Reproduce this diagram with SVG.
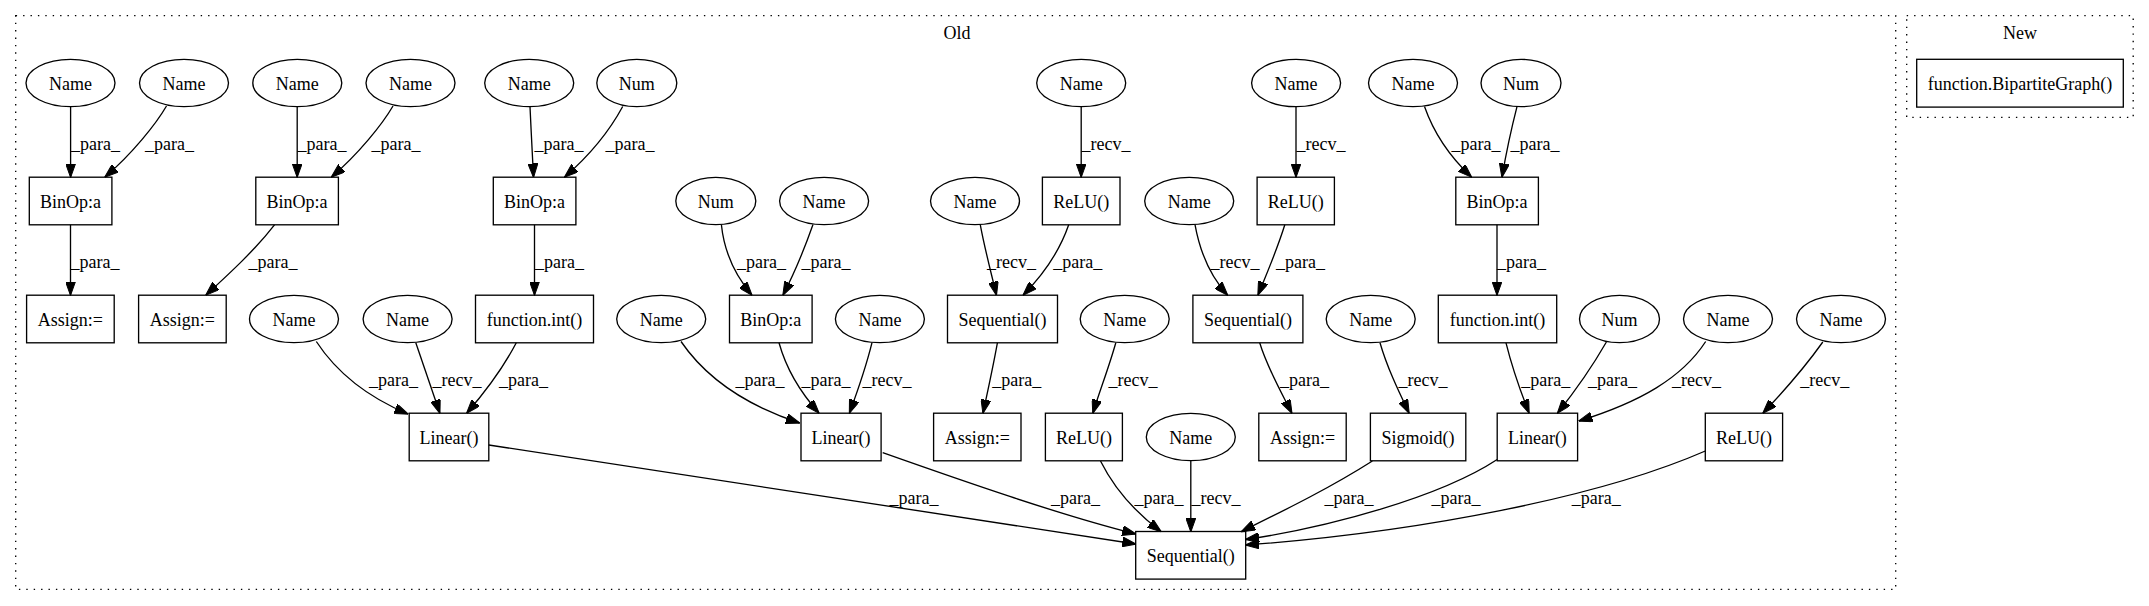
<svg xmlns="http://www.w3.org/2000/svg" width="2149" height="606" viewBox="0 0 2149 606" font-family="'Liberation Serif', 'Times New Roman', 'DejaVu Serif', serif" font-size="18">
<style>
text{font-family:'Liberation Serif','Times New Roman','DejaVu Serif',serif;font-size:18px;fill:#000}
.n text,.cl text{text-anchor:middle}
.n ellipse,.n rect{fill:none;stroke:#000;stroke-width:1.33}
.cl rect{fill:none;stroke:#000;stroke-width:1.33;stroke-dasharray:1.4,6}
.e path{fill:none;stroke:#000;stroke-width:1.33;marker-end:url(#ah)}
.e text{text-anchor:middle}
</style>
<defs>
<marker id="ah" markerUnits="userSpaceOnUse" markerWidth="14" markerHeight="10" refX="13.5" refY="5" orient="auto">
<path d="M0,0 L14,5 L0,10 z" fill="#000" stroke="#000" stroke-width="1"/>
</marker>
</defs>
<rect width="2149" height="606" fill="#fff"/>
<g class="cl" id="cluster_old"><rect x="15.7" y="15.7" width="1880" height="573.6"/><text x="957" y="39">Old</text></g>
<g class="cl" id="cluster_new"><rect x="1906.7" y="15.7" width="226.5" height="101.6"/><text x="2020" y="39">New</text></g>

<g class="n" id="n1"><ellipse cx="70.5" cy="83" rx="44.5" ry="23.7"/><text x="70.5" y="89.5">Name</text></g>
<g class="n" id="n2"><ellipse cx="184" cy="83" rx="44.5" ry="23.7"/><text x="184" y="89.5">Name</text></g>
<g class="n" id="n3"><ellipse cx="297.3" cy="83" rx="44.5" ry="23.7"/><text x="297.3" y="89.5">Name</text></g>
<g class="n" id="n4"><ellipse cx="410.5" cy="83" rx="44.5" ry="23.7"/><text x="410.5" y="89.5">Name</text></g>
<g class="n" id="n5"><ellipse cx="529.2" cy="83" rx="44.5" ry="23.7"/><text x="529.2" y="89.5">Name</text></g>
<g class="n" id="n6"><ellipse cx="636.8" cy="83" rx="40" ry="23.7"/><text x="636.8" y="89.5">Num</text></g>
<g class="n" id="n7"><ellipse cx="1081.2" cy="83" rx="44.5" ry="23.7"/><text x="1081.2" y="89.5">Name</text></g>
<g class="n" id="n8"><ellipse cx="1296.1" cy="83" rx="44.5" ry="23.7"/><text x="1296.1" y="89.5">Name</text></g>
<g class="n" id="n9"><ellipse cx="1413" cy="83" rx="44.5" ry="23.7"/><text x="1413" y="89.5">Name</text></g>
<g class="n" id="n10"><ellipse cx="1521" cy="83" rx="40" ry="23.7"/><text x="1521" y="89.5">Num</text></g>

<g class="n" id="b1"><rect x="29.3" y="177.2" width="82.6" height="47.6"/><text x="70.6" y="207.5">BinOp:a</text></g>
<g class="n" id="b2"><rect x="255.8" y="177.2" width="82.6" height="47.6"/><text x="297.1" y="207.5">BinOp:a</text></g>
<g class="n" id="b3"><rect x="493.3" y="177.2" width="82.6" height="47.6"/><text x="534.6" y="207.5">BinOp:a</text></g>
<g class="n" id="n11"><ellipse cx="715.8" cy="201" rx="40" ry="23.7"/><text x="715.8" y="207.5">Num</text></g>
<g class="n" id="n12"><ellipse cx="824.1" cy="201" rx="44.5" ry="23.7"/><text x="824.1" y="207.5">Name</text></g>
<g class="n" id="n13"><ellipse cx="975" cy="201" rx="44.5" ry="23.7"/><text x="975" y="207.5">Name</text></g>
<g class="n" id="relu1"><rect x="1042.4" y="177.2" width="77.6" height="47.6"/><text x="1081.2" y="207.5">ReLU()</text></g>
<g class="n" id="n14"><ellipse cx="1189.2" cy="201" rx="44.5" ry="23.7"/><text x="1189.2" y="207.5">Name</text></g>
<g class="n" id="relu2"><rect x="1257.1" y="177.2" width="77.3" height="47.6"/><text x="1295.8" y="207.5">ReLU()</text></g>
<g class="n" id="b4"><rect x="1455.8" y="177.2" width="82.6" height="47.6"/><text x="1497.1" y="207.5">BinOp:a</text></g>

<g class="n" id="a1"><rect x="26.6" y="295.2" width="87.6" height="47.6"/><text x="70.4" y="325.5">Assign:=</text></g>
<g class="n" id="a2"><rect x="138.6" y="295.2" width="87.6" height="47.6"/><text x="182.4" y="325.5">Assign:=</text></g>
<g class="n" id="n15"><ellipse cx="294" cy="319" rx="44.5" ry="23.7"/><text x="294" y="325.5">Name</text></g>
<g class="n" id="n16"><ellipse cx="407.6" cy="319" rx="44.5" ry="23.7"/><text x="407.6" y="325.5">Name</text></g>
<g class="n" id="fi1"><rect x="475.5" y="295.2" width="118" height="47.6"/><text x="534.5" y="325.5">function.int()</text></g>
<g class="n" id="n17"><ellipse cx="661.2" cy="319" rx="44.5" ry="23.7"/><text x="661.2" y="325.5">Name</text></g>
<g class="n" id="b5"><rect x="729.5" y="295.2" width="82.6" height="47.6"/><text x="770.8" y="325.5">BinOp:a</text></g>
<g class="n" id="n18"><ellipse cx="879.9" cy="319" rx="44.5" ry="23.7"/><text x="879.9" y="325.5">Name</text></g>
<g class="n" id="seq1"><rect x="947.5" y="295.2" width="110" height="47.6"/><text x="1002.5" y="325.5">Sequential()</text></g>
<g class="n" id="n19"><ellipse cx="1124.7" cy="319" rx="44.5" ry="23.7"/><text x="1124.7" y="325.5">Name</text></g>
<g class="n" id="seq2"><rect x="1192.9" y="295.2" width="110" height="47.6"/><text x="1247.9" y="325.5">Sequential()</text></g>
<g class="n" id="n20"><ellipse cx="1370.7" cy="319" rx="44.5" ry="23.7"/><text x="1370.7" y="325.5">Name</text></g>
<g class="n" id="fi2"><rect x="1438.3" y="295.2" width="118.4" height="47.6"/><text x="1497.5" y="325.5">function.int()</text></g>
<g class="n" id="n21"><ellipse cx="1619.5" cy="319" rx="40" ry="23.7"/><text x="1619.5" y="325.5">Num</text></g>
<g class="n" id="n22"><ellipse cx="1728" cy="319" rx="44.5" ry="23.7"/><text x="1728" y="325.5">Name</text></g>
<g class="n" id="n23"><ellipse cx="1841" cy="319" rx="44.5" ry="23.7"/><text x="1841" y="325.5">Name</text></g>

<g class="n" id="lin1"><rect x="409.2" y="413.2" width="79.6" height="47.6"/><text x="449" y="443.5">Linear()</text></g>
<g class="n" id="lin2"><rect x="801" y="413.2" width="80.1" height="47.6"/><text x="841" y="443.5">Linear()</text></g>
<g class="n" id="a3"><rect x="933.6" y="413.2" width="87.4" height="47.6"/><text x="977.3" y="443.5">Assign:=</text></g>
<g class="n" id="relu3"><rect x="1045.4" y="413.2" width="77" height="47.6"/><text x="1083.9" y="443.5">ReLU()</text></g>
<g class="n" id="n24"><ellipse cx="1190.8" cy="437" rx="44.5" ry="23.7"/><text x="1190.8" y="443.5">Name</text></g>
<g class="n" id="a4"><rect x="1258.8" y="413.2" width="87.4" height="47.6"/><text x="1302.5" y="443.5">Assign:=</text></g>
<g class="n" id="sig"><rect x="1370.4" y="413.2" width="95.4" height="47.6"/><text x="1418.1" y="443.5">Sigmoid()</text></g>
<g class="n" id="lin3"><rect x="1497.2" y="413.2" width="80.4" height="47.6"/><text x="1537.4" y="443.5">Linear()</text></g>
<g class="n" id="relu4"><rect x="1705.3" y="413.2" width="77.3" height="47.6"/><text x="1744" y="443.5">ReLU()</text></g>

<g class="n" id="seqF"><rect x="1135.7" y="531.5" width="110" height="47.6"/><text x="1190.7" y="561.8">Sequential()</text></g>

<g class="n" id="bip"><rect x="1916.7" y="59.3" width="206.6" height="47.8"/><text x="2020" y="89.5">function.BipartiteGraph()</text></g>

<g class="e" id="edges">
<path d="M70.6,106.7 L70.6,177"/><text x="95.4" y="150">_para_</text>
<path d="M166.5,106 C156,124 132,154 105,177"/><text x="169.5" y="150">_para_</text>
<path d="M297.2,106.7 L297.2,177"/><text x="322" y="150">_para_</text>
<path d="M393,106 C382.5,124 358.5,154 331.5,177"/><text x="396" y="150">_para_</text>
<path d="M530,106.7 C531,130 532.5,155 533.5,177"/><text x="559" y="150">_para_</text>
<path d="M622.7,106.5 C610,130 590,155 564.7,177"/><text x="630" y="150">_para_</text>
<path d="M1081.2,106.7 L1081.2,177"/><text x="1106" y="150">_recv_</text>
<path d="M1296,106.7 L1296,177"/><text x="1321" y="150">_recv_</text>
<path d="M1424.5,106.5 C1432,128 1447,154 1471.4,177"/><text x="1476" y="150">_para_</text>
<path d="M1517,106.7 C1511,130 1506,154 1502,177"/><text x="1535" y="150">_para_</text>

<path d="M70.5,224.8 L70.5,295"/><text x="95" y="268">_para_</text>
<path d="M274.5,224.8 C255,250 230,273 206,295"/><text x="273" y="268">_para_</text>
<path d="M534.5,224.8 L534.5,295"/><text x="559.5" y="268">_para_</text>
<path d="M721.4,224.8 C724,250 734,274 751.8,295"/><text x="761.6" y="268">_para_</text>
<path d="M813,224.5 C804,250 795,272 783,295"/><text x="826" y="268">_para_</text>
<path d="M980.3,224.8 C985,250 991,272 996.4,295"/><text x="1011.6" y="268">_recv_</text>
<path d="M1068.7,224.8 C1060,250 1045,273 1023.2,295"/><text x="1077.7" y="268">_para_</text>
<path d="M1195,224.6 C1200,252 1210,276 1227.5,295"/><text x="1235" y="268">_recv_</text>
<path d="M1284.8,224.8 C1277,250 1267,273 1258,295"/><text x="1300.4" y="268">_para_</text>
<path d="M1497,224.8 L1497,295"/><text x="1521.5" y="268">_para_</text>

<path d="M316.3,341.5 C335,370 365,396 408,414"/><text x="393.4" y="386">_para_</text>
<path d="M415.8,342.7 C424,367 432,390 439.8,413"/><text x="457" y="386">_recv_</text>
<path d="M516.3,342.8 C503,368 486,391 466.8,413"/><text x="523.5" y="386">_para_</text>
<path d="M681,341.5 C706,378 745,405 799.5,423"/><text x="760" y="386">_para_</text>
<path d="M779,342.8 C786,368 800,392 818.9,413"/><text x="826" y="386">_para_</text>
<path d="M872,342.7 C866,367 858,390 849.5,413"/><text x="887" y="386">_recv_</text>
<path d="M997.4,342.8 C993,367 988,390 983,413"/><text x="1016.8" y="386">_para_</text>
<path d="M1115.8,342.7 C1109,367 1100,390 1092.9,413"/><text x="1133" y="386">_recv_</text>
<path d="M1259.7,342.8 C1267,367 1280,390 1291.8,413"/><text x="1304.6" y="386">_para_</text>
<path d="M1380,342.7 C1387,367 1398,390 1409,413"/><text x="1423" y="386">_recv_</text>
<path d="M1506,342.8 C1512,367 1520,390 1529,413"/><text x="1545.7" y="386">_para_</text>
<path d="M1606.4,342 C1592,367 1576,390 1557.6,413"/><text x="1612.6" y="386">_para_</text>
<path d="M1705.7,341.5 C1682,378 1640,402 1579,421"/><text x="1696.6" y="386">_recv_</text>
<path d="M1822.8,342 C1805,367 1785,390 1763,413"/><text x="1824.7" y="386">_recv_</text>

<path d="M488.8,445 L1135.7,544"/><text x="914" y="504">_para_</text>
<path d="M882.7,452.7 C960,480 1060,515 1135.7,534"/><text x="1075.5" y="504">_para_</text>
<path d="M1100.5,461 C1115,490 1135,512 1161,531.5"/><text x="1159" y="504">_para_</text>
<path d="M1190.8,460.7 L1190.8,531.5"/><text x="1216" y="504">_recv_</text>
<path d="M1372.4,461 C1330,488 1285,510 1241.5,531.5"/><text x="1349" y="504">_para_</text>
<path d="M1497.2,459.5 C1440,497 1330,527 1245.7,539.5"/><text x="1456" y="504">_para_</text>
<path d="M1705.3,451 C1600,497 1420,532 1245.7,545"/><text x="1596.3" y="504">_para_</text>
</g>
</svg>
